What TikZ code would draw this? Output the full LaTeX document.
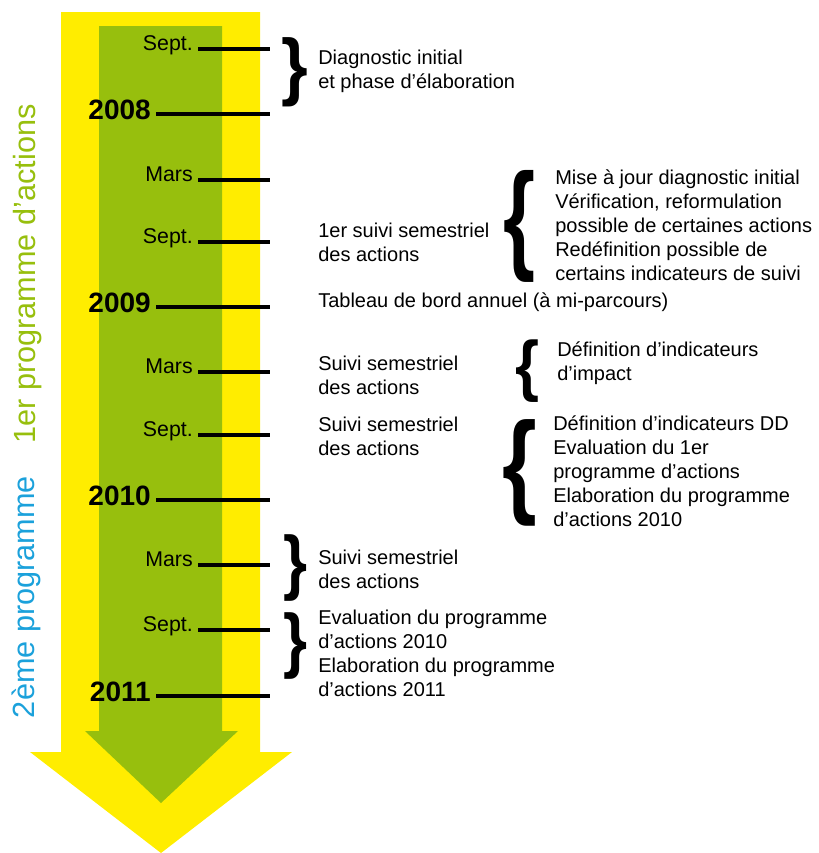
\documentclass[tikz,border=0pt]{standalone}
\usepackage{fontspec}
\setmainfont{Liberation Sans}
\usepackage{graphicx}

\definecolor{arrowyellow}{HTML}{FFED00}
\definecolor{arrowgreen}{HTML}{97BF0D}
\definecolor{progblue}{HTML}{1BA1DB}

% stretched text braces
\newcommand{\openbr}[2]{\resizebox*{#1}{#2}{\bfseries\{}}
\newcommand{\closebr}[2]{\resizebox*{#1}{#2}{\bfseries\}}}

\begin{document}
\begin{tikzpicture}[
    x=0.75pt, y=-0.75pt,
    month/.style={anchor=base east, inner sep=0pt, font=\fontsize{16}{19}\selectfont},
    year/.style={anchor=base east, inner sep=0pt, font=\fontsize{21}{25}\selectfont\bfseries},
    tick/.style={line width=3pt, shorten <=4pt},
    note/.style={anchor=west, inner sep=0pt, align=left, font=\fontsize{15}{18}\selectfont},
    brace/.style={inner sep=0pt},
    vlabel/.style={anchor=base, rotate=90, inner sep=0pt, font=\fontsize{23}{28}\selectfont}
]
\useasboundingbox (0,0) rectangle (818,853);

% big arrows
\fill[arrowyellow] (61,12) -- (260,12) -- (260,752) -- (292,752) -- (161,853)
    -- (30,752) -- (61,752) -- cycle;
\fill[arrowgreen] (99,26) -- (222,26) -- (222,731) -- (238,731) -- (161,803)
    -- (85,731) -- (99,731) -- cycle;

% programme labels
\node[vlabel, text=arrowgreen] (prog1) at (35,274) {1er programme d’actions};
\node[vlabel, text=progblue] (prog2) at (34,597) {2ème programme};

% timeline ticks
\coordinate (e1) at (270,49);
\coordinate (e2) at (270,114);
\coordinate (e3) at (270,180);
\coordinate (e4) at (270,242);
\coordinate (e5) at (270,307);
\coordinate (e6) at (270,372);
\coordinate (e7) at (270,435);
\coordinate (e8) at (270,500);
\coordinate (e9) at (270,565);
\coordinate (e10) at (270,630);
\coordinate (e11) at (270,696);

\node[month] (sept08) at (193,50) {Sept.};
\node[year] (y2008) at (151,119) {2008};
\node[month] (mars09) at (193,181) {Mars};
\node[month] (sept09) at (193,243) {Sept.};
\node[year] (y2009) at (151,312) {2009};
\node[month] (mars10) at (193,373) {Mars};
\node[month] (sept10) at (193,436) {Sept.};
\node[year] (y2010) at (151,505) {2010};
\node[month] (mars11) at (193,566) {Mars};
\node[month] (sept11) at (193,631) {Sept.};
\node[year] (y2011) at (151,701) {2011};

\draw[tick] (sept08.east |- e1) -- (e1);
\draw[tick] (y2008.east |- e2) -- (e2);
\draw[tick] (mars09.east |- e3) -- (e3);
\draw[tick] (sept09.east |- e4) -- (e4);
\draw[tick] (y2009.east |- e5) -- (e5);
\draw[tick] (mars10.east |- e6) -- (e6);
\draw[tick] (sept10.east |- e7) -- (e7);
\draw[tick] (y2010.east |- e8) -- (e8);
\draw[tick] (mars11.east |- e9) -- (e9);
\draw[tick] (sept11.east |- e10) -- (e10);
\draw[tick] (y2011.east |- e11) -- (e11);

% braces
\node[brace] (br1) at (295,72) {\closebr{20pt}{52pt}};
\node[brace] (br2) at (519,226) {\openbr{24pt}{84pt}};
\node[brace] (br3) at (527,371) {\openbr{18pt}{47pt}};
\node[brace] (br4) at (520,473) {\openbr{26pt}{80pt}};
\node[brace] (br5) at (295,568) {\closebr{18pt}{50pt}};
\node[brace] (br6) at (295,646) {\closebr{18pt}{50pt}};

% comments on the steps
\node[note] (diag) at (318,71.5) {Diagnostic initial\\et phase d’élaboration};
\node[note] (suivi1) at (318,242) {1er suivi semestriel\\des actions};
\node[note] (maj) at (555,225) {Mise à jour diagnostic initial\\Vérification, reformulation\\possible de certaines actions\\Redéfinition possible de\\certains indicateurs de suivi};
\node[note] (bord) at (318,302) {Tableau de bord annuel (à mi-parcours)};
\node[note] (suivi2) at (318,375.5) {Suivi semestriel\\des actions};
\node[note] (impact) at (557,363) {Définition d’indicateurs\\d’impact};
\node[note] (suivi3) at (318,436.5) {Suivi semestriel\\des actions};
\node[note] (eval1) at (553,471.5) {Définition d’indicateurs DD\\Evaluation du 1er\\programme d’actions\\Elaboration du programme\\d’actions 2010};
\node[note] (suivi4) at (318,569.5) {Suivi semestriel\\des actions};
\node[note] (eval2) at (318,653) {Evaluation du programme\\d’actions 2010\\Elaboration du programme\\d’actions 2011};
\end{tikzpicture}
\end{document}
